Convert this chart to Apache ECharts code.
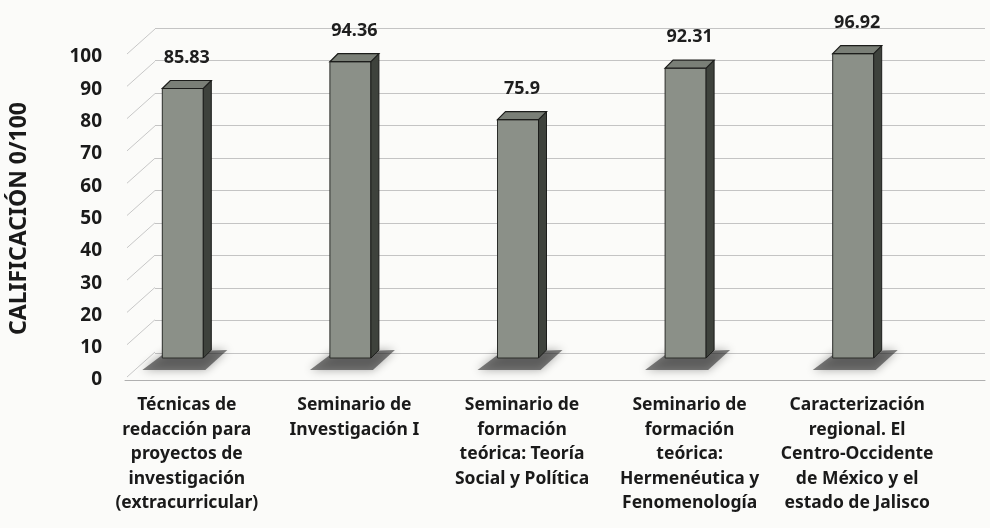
<!DOCTYPE html>
<html>
<head>
<meta charset="utf-8">
<script src="https://cdn.jsdelivr.net/npm/echarts@6/dist/echarts.min.js"></script>
<style>
html,body{margin:0;padding:0;background:#fbfbf9;}
#c{width:990px;height:528px;}
</style>
</head>
<body>
<div id="c"></div>
<script>
const categories = [
  'Técnicas de\nredacción para\nproyectos de\ninvestigación\n(extracurricular)',
  'Seminario de\nInvestigación I',
  'Seminario de\nformación\nteórica: Teoría\nSocial y Política',
  'Seminario de\nformación\nteórica:\nHermenéutica y\nFenomenología',
  'Caracterización\nregional. El\nCentro-Occidente\nde México y el\nestado de Jalisco'
];
const values = [85.83, 94.36, 75.9, 92.31, 96.92];
const yMin = 0, yMax = 100, yInterval = 10;
const yTitle = 'CALIFICACIÓN 0/100';
const yTicks = [0, 10, 20, 30, 40, 50, 60, 70, 80, 90, 100];

const FONT = "'Noto Sans', 'DejaVu Sans', sans-serif";
const chart = echarts.init(document.getElementById('c'), null, {renderer: 'canvas'});

function renderBar(params, api) {
  const x = api.value(0), v = api.value(1);
  const top = api.coord([x, v]);
  const base = api.coord([x, 0]);
  const w = 41, d = 8;
  const left = top[0] - w / 2 - d / 2;
  const ty = top[1], by = base[1];
  return {
    type: 'group',
    children: [
      { type: 'polygon', shape: { points: [[left - 20, by + 12], [left + 4, by - 6], [left + w + d + 16, by - 8], [left + w + d - 6, by + 12]] },
        style: { fill: 'rgba(30,30,30,0.55)', shadowBlur: 10, shadowColor: 'rgba(0,0,0,0.6)' } },
      { type: 'rect', shape: { x: left, y: ty, width: w, height: by - ty },
        style: { fill: '#8b9088', stroke: '#2a2c29', lineWidth: 1 } },
      { type: 'polygon', shape: { points: [[left + w, ty], [left + w + d, ty - d], [left + w + d, by - d], [left + w, by]] },
        style: { fill: '#3e423c', stroke: '#1c1d1b', lineWidth: 1 } },
      { type: 'polygon', shape: { points: [[left, ty], [left + d, ty - d], [left + w + d, ty - d], [left + w, ty]] },
        style: { fill: '#7a7f77', stroke: '#1c1d1b', lineWidth: 1.2 } },
      { type: 'text', style: { text: String(v), x: top[0], y: ty - d - 23, align: 'center', verticalAlign: 'middle',
        fill: '#1e1e1e', font: 'bold 18px ' + FONT } }
    ]
  };
}

function renderSide(params, api) {
  const v = api.value(0);
  const p = api.coord([0, v]);
  return { type: 'line', shape: { x1: p[0] + 2, y1: p[1] - 3, x2: p[0] + 30, y2: p[1] - 28 },
    style: { stroke: '#c8c8c8', lineWidth: 1 } };
}

chart.setOption({
  backgroundColor: '#fbfbf9',
  animation: false,
  grid: [
    { left: 125, right: 5, top: 57, bottom: 148, outerBoundsMode: 'none' },   // front plane (axis labels)
    { left: 155, right: 5, top: 28, bottom: 175, outerBoundsMode: 'none' },   // back wall gridlines
    { left: 103, right: 49, top: 44, bottom: 170, outerBoundsMode: 'none' }   // bars plane
  ],
  xAxis: [
    { gridIndex: 0, type: 'value', min: 0, max: 1, show: true,
      axisLine: { show: true, lineStyle: { color: '#b0b0b0' } }, axisTick: { show: false },
      axisLabel: { show: false }, splitLine: { show: false } },
    { gridIndex: 1, type: 'value', min: 0, max: 1, show: false },
    { gridIndex: 2, type: 'category', data: categories,
      axisLine: { show: false }, axisTick: { show: false },
      axisLabel: { interval: 0, margin: 35, color: '#1a1a1a', fontFamily: FONT, fontWeight: 'bold',
        fontSize: 17.5, lineHeight: 24.5, align: 'center' } }
  ],
  yAxis: [
    { gridIndex: 0, type: 'value', min: yMin, max: yMax, interval: yInterval,
      name: yTitle, nameLocation: 'middle', nameRotate: 90, nameGap: 94,
      nameTextStyle: { fontFamily: FONT, fontWeight: 'bold', fontSize: 23, color: '#1a1a1a' },
      axisLine: { show: false }, axisTick: { show: false }, splitLine: { show: false },
      axisLabel: { margin: 23, color: '#1a1a1a', fontFamily: FONT, fontWeight: 'bold', fontSize: 19 } },
    { gridIndex: 1, type: 'value', min: yMin, max: yMax, interval: yInterval,
      axisLine: { show: false }, axisTick: { show: false }, axisLabel: { show: false },
      splitLine: { show: true, lineStyle: { color: '#c4c4c4', width: 1 } } },
    { gridIndex: 2, type: 'value', min: yMin, max: yMax, interval: yInterval, show: false,
      splitLine: { show: false } }
  ],
  series: [
    { type: 'custom', xAxisIndex: 0, yAxisIndex: 0, renderItem: renderSide,
      data: yTicks.map(t => [t]), encode: { y: 0 }, silent: true, z: 1 },
    { type: 'custom', xAxisIndex: 2, yAxisIndex: 2, renderItem: renderBar,
      data: values.map((v, i) => [i, v]), encode: { x: 0, y: 1 }, z: 5 }
  ]
});
</script>
</body>
</html>
